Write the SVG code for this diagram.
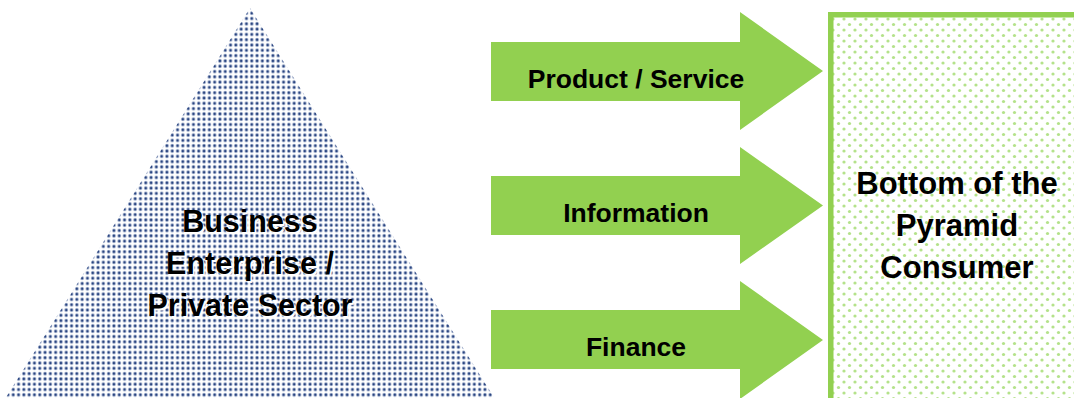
<svg xmlns="http://www.w3.org/2000/svg" width="1074" height="398" viewBox="0 0 1074 398">
  <defs>
    <!-- fine navy dot screen for the pyramid -->
    <pattern id="navyDots" width="5.3" height="5.3" patternUnits="userSpaceOnUse">
      <rect width="5.3" height="5.3" fill="#ffffff"/>
      <circle cx="2.65" cy="2.65" r="2.0" fill="#b3bfd8"/>
      <circle cx="2.65" cy="2.65" r="1.25" fill="#2a4580"/>
    </pattern>
    <!-- sparse green dot screen for the consumer box -->
    <pattern id="greenDots" width="11" height="11" patternUnits="userSpaceOnUse">
      <rect width="11" height="11" fill="#ffffff"/>
      <circle cx="2.5" cy="2.5" r="1.6" fill="#b4e28a"/>
      <circle cx="8" cy="8" r="1.6" fill="#b4e28a"/>
    </pattern>
  </defs>
  <style>
    .arrow { fill: #92d050; }
    .lbl { font-family: "Liberation Sans", Arial, sans-serif; font-weight: bold; fill: #000000; text-anchor: middle; }
    .halo { fill: #ffffff; }
  </style>

  <rect width="1074" height="398" fill="#ffffff"/>

  <!-- pyramid: business enterprise / private sector -->
  <g id="business">
    <polygon points="250,8 5,399 495,399" fill="url(#navyDots)"/>
    <g class="lbl" font-size="30.5">
      <text class="halo" x="251.5" y="233.5">Business</text>
      <text class="halo" x="251.5" y="275.5">Enterprise /</text>
      <text class="halo" x="251.5" y="317.5">Private Sector</text>
      <text x="250" y="232">Business</text>
      <text x="250" y="274">Enterprise /</text>
      <text x="250" y="316">Private Sector</text>
    </g>
  </g>

  <!-- consumer box, running off the right and bottom edges -->
  <g id="consumer">
    <rect x="830.75" y="14.75" width="260" height="400" fill="url(#greenDots)" stroke="#92d050" stroke-width="5.5"/>
    <g class="lbl" font-size="31">
      <text x="957" y="194">Bottom of the</text>
      <text x="957" y="236">Pyramid</text>
      <text x="957" y="278">Consumer</text>
    </g>
  </g>

  <!-- flows from enterprise to consumer -->
  <g id="connectors">
    <g id="flow-product">
      <polygon class="arrow" points="491,42 740,42 740,12 823,71 740,130 740,101 491,101"/>
      <text class="lbl" font-size="26.5" x="636" y="87.5">Product / Service</text>
    </g>
    <g id="flow-information">
      <polygon class="arrow" points="491,176 740,176 740,147 823,205.5 740,264 740,235 491,235"/>
      <text class="lbl" font-size="26.5" x="636" y="222">Information</text>
    </g>
    <g id="flow-finance">
      <polygon class="arrow" points="491,310 740,310 740,281 823,340 740,399 740,369 491,369"/>
      <text class="lbl" font-size="26.5" x="636" y="356">Finance</text>
    </g>
  </g>
</svg>
